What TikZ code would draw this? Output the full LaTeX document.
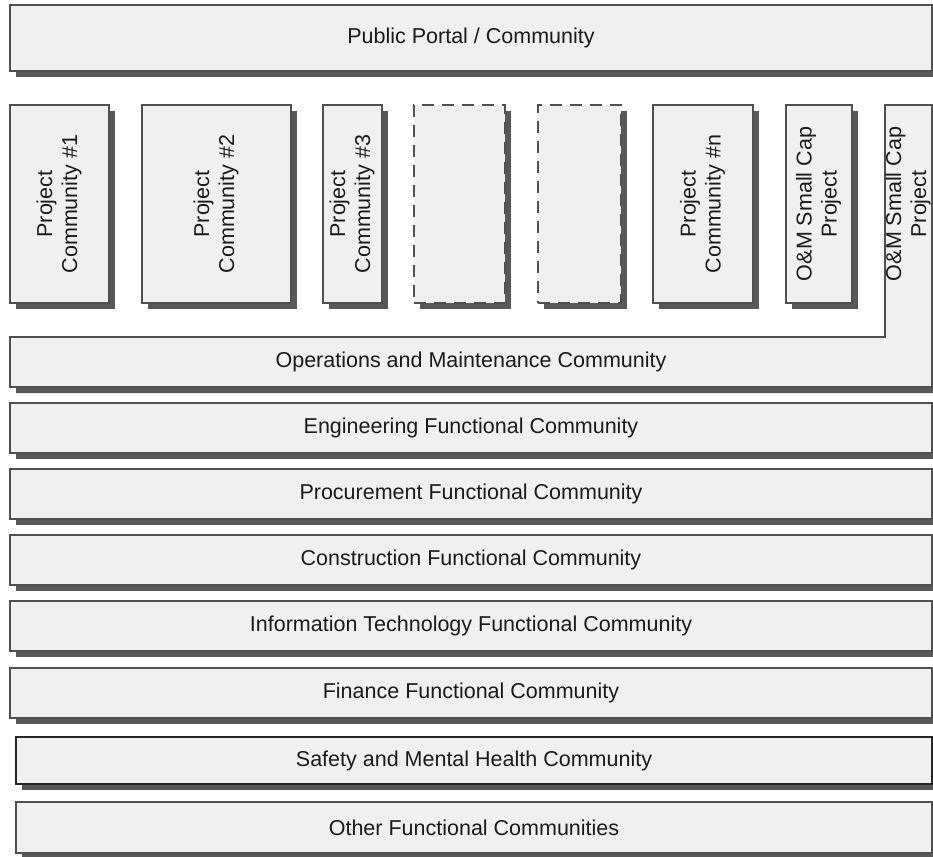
\documentclass[tikz,border=0pt]{standalone}
\usepackage{fontspec}
\setmainfont{Liberation Sans}
\usetikzlibrary{shadows}
\definecolor{boxfill}{HTML}{F0F0F0}
\definecolor{boxline}{HTML}{505050}
\definecolor{shadowgray}{HTML}{585858}
\definecolor{txt}{HTML}{1A1A1A}
\newcommand{\vtext}[2]{\rotatebox{90}{\begin{tabular}{@{}c@{}}#1\\#2\end{tabular}}}
\begin{document}
\begin{tikzpicture}[x=1pt,y=-1pt,
  box/.style={draw=boxline, line width=1.2pt, fill=boxfill, text=txt, inner sep=0pt,
    font=\fontsize{21.5}{25}\selectfont,
    drop shadow={shadow xshift=6pt, shadow yshift=-6pt, fill=shadowgray, draw=none, opacity=1}},
  dashbox/.style={box, dash pattern=on 12pt off 8pt},
  txtnode/.style={text=txt, inner sep=0pt, font=\fontsize{21.5}{25}\selectfont}
]
\useasboundingbox (0,0) rectangle (933,856);
\fill[white] (0,0) rectangle (933,856);

% top portal
\node[box, minimum width=922pt, minimum height=66pt] (portal) at (471,38) {Public Portal / Community};

% vertical project boxes
\node[box, minimum width=99pt, minimum height=198pt] (pc1) at (59.5,204) {\vtext{Project}{Community \#1}};
\node[box, minimum width=149pt, minimum height=198pt] (pc2) at (216.5,204) {\vtext{Project}{Community \#2}};
\node[box, minimum width=59pt, minimum height=198pt] (pc3) at (352.5,204) {\vtext{Project}{Community \#3}};
\node[dashbox, minimum width=91pt, minimum height=198pt] (d1) at (459.5,204) {};
\node[dashbox, minimum width=83pt, minimum height=198pt] (d2) at (579.5,204) {};
\node[box, minimum width=100pt, minimum height=198pt] (pcn) at (703,204) {\vtext{Project}{Community \#n}};
\node[box, minimum width=66pt, minimum height=198pt] (oms) at (819,204) {\vtext{O\&M Small Cap}{Project}};

% L-shaped O&M community
\fill[shadowgray] ([shift={(6,6)}]10,337) -- ([shift={(6,6)}]885,337) -- ([shift={(6,6)}]885,105)
  -- ([shift={(6,6)}]932,105) -- ([shift={(6,6)}]932,387) -- ([shift={(6,6)}]10,387) -- cycle;
\filldraw[draw=boxline, line width=1.2pt, fill=boxfill] (10,337) -- (885,337) -- (885,105)
  -- (932,105) -- (932,387) -- (10,387) -- cycle;
\node[txtnode] (om) at (471,362) {Operations and Maintenance Community};
\node[txtnode] (omsc) at (908.5,204) {\vtext{O\&M Small Cap}{Project}};

% horizontal functional bars
\node[box, minimum width=922pt, minimum height=50pt] (eng) at (471,428) {Engineering Functional Community};
\node[box, minimum width=922pt, minimum height=50pt] (proc) at (471,494) {Procurement Functional Community};
\node[box, minimum width=922pt, minimum height=50pt] (cons) at (471,560) {Construction Functional Community};
\node[box, minimum width=922pt, minimum height=50pt] (it) at (471,626) {Information Technology Functional Community};
\node[box, minimum width=922pt, minimum height=50pt] (fin) at (471,693) {Finance Functional Community};
\node[box, draw=black!85, line width=2.4pt, minimum width=916pt, minimum height=47pt] (safe) at (474,760.5) {Safety and Mental Health Community};
\node[box, minimum width=916pt, minimum height=51pt] (other) at (474,827.5) {Other Functional Communities};
\end{tikzpicture}
\end{document}
